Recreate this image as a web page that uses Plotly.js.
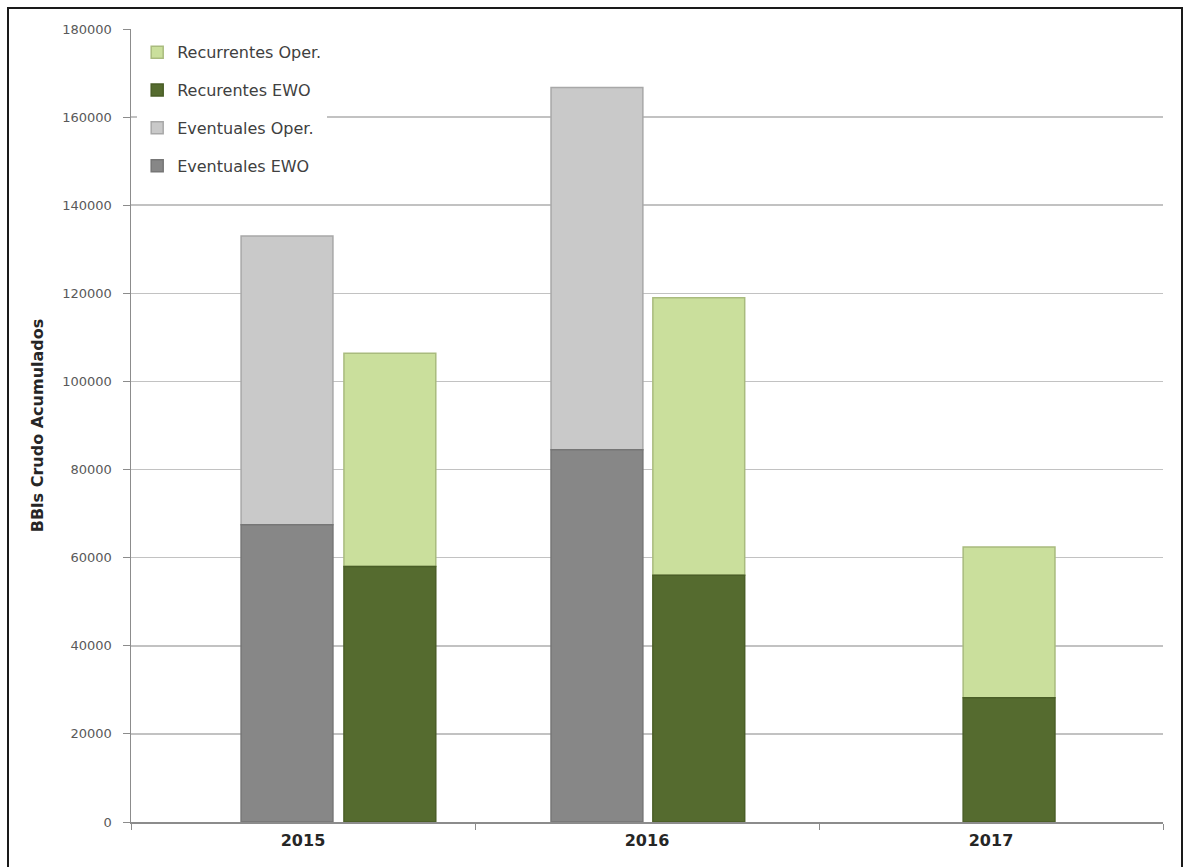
<!DOCTYPE html>
<html>
<head>
<meta charset="utf-8">
<script src="https://cdn.plot.ly/plotly-3.0.1.min.js"></script>
<style>
  html, body { margin: 0; padding: 0; background: #fff; }
  #frame { position: absolute; left: 7px; top: 7px; width: 1176px; height: 880px; border: 2px solid #1a1a1a; box-sizing: border-box; }
  #chart { position: absolute; left: 0; top: 0; width: 1185px; height: 867px; }
</style>
</head>
<body>
<div id="frame"></div>
<div id="chart"></div>
<script>
// Data
const years = ['2015', '2016', '2017'];
const eventualesEWO  = [67500, 84500, null];
const eventualesOper = [65500, 82200, null];
const recurrentesEWO = [58000, 56000, 28200];
const recurrentesOper = [48400, 63000, 34200];
const yTicks = [0, 20000, 40000, 60000, 80000, 100000, 120000, 140000, 160000, 180000];

// Bar placement (style): widths/offsets in category units
const barWidth = 0.267;
const grayOffsets = [-0.180, -0.279, 0];
const greenOffsets = [0.119, 0.017, -0.081];

const FONT = '"DejaVu Sans", "Open Sans", sans-serif';

function barTrace(name, y, base, color, lineColor, offsets, group) {
  const t = {
    type: 'bar',
    name: name,
    x: years,
    y: y,
    width: barWidth,
    offset: offsets,
    marker: {color: color, line: {color: lineColor, width: 1.5}},
    legendgroup: group,
    hoverinfo: 'x+y+name'
  };
  if (base) t.base = base;
  return t;
}

const traces = [
  barTrace('Recurrentes Oper.', recurrentesOper, recurrentesEWO, '#cadf9c', '#a9bb7e', greenOffsets, 'g1'),
  barTrace('Recurentes EWO', recurrentesEWO, null, '#556b2f', '#4a5e27', greenOffsets, 'g2'),
  barTrace('Eventuales Oper.', eventualesOper, eventualesEWO, '#c9c9c9', '#a8a8a8', grayOffsets, 'g3'),
  barTrace('Eventuales EWO', eventualesEWO, null, '#878787', '#767676', grayOffsets, 'g4')
];

const layout = {
  width: 1185,
  height: 867,
  margin: {l: 131, r: 22, t: 29, b: 45},
  paper_bgcolor: 'rgba(0,0,0,0)',
  plot_bgcolor: 'rgba(0,0,0,0)',
  barmode: 'overlay',
  showlegend: true,
  legend: {
    x: 0.006, y: 0.992, xanchor: 'left', yanchor: 'top',
    bgcolor: '#ffffff',
    font: {family: FONT, size: 16, color: '#404040'},
    traceorder: 'grouped',
    tracegroupgap: 14,
    itemwidth: 30
  },
  xaxis: {
    type: 'category',
    categoryorder: 'array',
    categoryarray: years,
    range: [-0.5, 2.5],
    showline: true,
    linecolor: '#8c8c8c',
    linewidth: 1.5,
    ticks: 'outside',
    tickson: 'boundaries',
    ticklen: 6,
    tickcolor: '#8c8c8c',
    showgrid: false,
    ticklabelstandoff: 3,
    tickfont: {family: FONT, size: 16, color: '#262626', weight: 'bold'}
  },
  yaxis: {
    range: [0, 180000],
    tickvals: yTicks,
    ticktext: yTicks.map(String),
    showline: true,
    linecolor: '#8c8c8c',
    linewidth: 1.5,
    ticks: 'outside',
    ticklen: 7,
    tickcolor: '#8c8c8c',
    ticklabelstandoff: 8,
    showgrid: true,
    gridcolor: '#c2c2c2',
    gridwidth: 1.5,
    zeroline: false,
    tickfont: {family: FONT, size: 13, color: '#595959'},
    title: {
      text: 'BBls Crudo Acumulados',
      font: {family: FONT, size: 16, color: '#262626', weight: 'bold'},
      standoff: 14
    }
  }
};

Plotly.newPlot('chart', traces, layout, {displayModeBar: false, staticPlot: true});
</script>
</body>
</html>
